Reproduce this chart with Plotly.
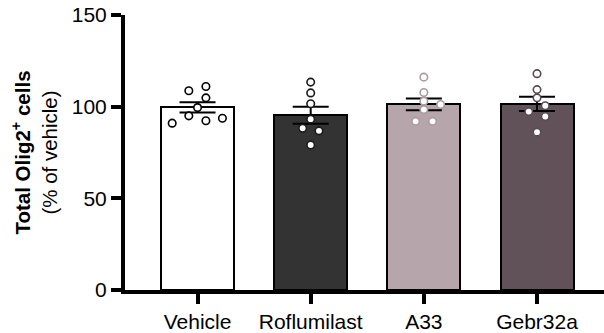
import plotly.graph_objects as go

# Groups and summary values (% of vehicle)
groups = ["Vehicle", "Roflumilast", "A33", "Gebr32a"]
means = [99.6, 95.3, 101.3, 101.5]
sems = [2.8, 4.6, 3.2, 3.9]

# Individual animals per group
vehicle_pts = [108.7, 111.0, 104.8, 99.5, 95.0, 92.3, 93.7, 91.0]
roflumilast_pts = [113.4, 107.5, 101.6, 93.2, 88.2, 86.8, 79.1]
a33_pts = [116.1, 107.7, 103.0, 101.2, 98.4, 92.0, 92.0]
gebr32a_pts = [118.0, 109.3, 104.8, 100.5, 97.3, 94.6, 86.1]

# Horizontal scatter offsets (category units) so overlapping dots stay visible
vehicle_dx = [-0.077, 0.074, 0.074, 0.0, -0.077, 0.074, 0.22, -0.224]
roflumilast_dx = [0.0, 0.0, 0.0, 0.0, -0.071, 0.073, 0.0]
a33_dx = [0.0, 0.0, 0.0, 0.148, 0.0, -0.073, 0.077]
gebr32a_dx = [0.0, 0.0, 0.0, 0.073, -0.073, 0.073, 0.0]

bar_fill = ["#ffffff", "#333333", "#b6a6ab", "#615259"]
dot_edge = ["#000000", "#1a1a1a", "#ab9aa0", "#5a4b52"]

FONT = "Liberation Sans, Arial, sans-serif"

fig = go.Figure()
fig.add_trace(go.Bar(
    x=list(range(len(groups))),
    y=means,
    width=0.645,
    marker=dict(color=bar_fill, line=dict(color="#000000", width=2)),
    error_y=dict(type="data", array=sems, visible=True,
                 color="#000000", thickness=2, width=18),
    showlegend=False,
))

all_pts = [vehicle_pts, roflumilast_pts, a33_pts, gebr32a_pts]
all_dx = [vehicle_dx, roflumilast_dx, a33_dx, gebr32a_dx]
for i, (pts, dx) in enumerate(zip(all_pts, all_dx)):
    fig.add_trace(go.Scatter(
        x=[i + d for d in dx],
        y=pts,
        mode="markers",
        marker=dict(symbol="circle", size=7.5, color="#ffffff",
                    line=dict(color=dot_edge[i], width=1.6)),
        showlegend=False,
        cliponaxis=False,
    ))

fig.update_layout(
    width=604, height=333,
    margin=dict(l=125, r=0, t=15, b=38),
    plot_bgcolor="#ffffff", paper_bgcolor="#ffffff",
    font=dict(family=FONT, size=21, color="#000000"),
    bargap=0,
)
fig.update_xaxes(
    range=[-0.641, 3.592],
    tickvals=list(range(len(groups))), ticktext=groups,
    showline=True, linecolor="#000000", linewidth=4,
    ticks="outside", ticklen=10, tickwidth=4, tickcolor="#000000",
    showgrid=False, zeroline=False,
    tickfont=dict(family=FONT, size=21),
)
fig.update_yaxes(
    range=[0, 150], tickvals=[0, 50, 100, 150],
    showline=True, linecolor="#000000", linewidth=4,
    ticks="outside", ticklen=10, tickwidth=4, tickcolor="#000000",
    showgrid=False, zeroline=False,
    tickfont=dict(family=FONT, size=21),
    title=dict(text="<b>Total Olig2<sup>+</sup> cells</b><br>(% of vehicle)",
               font=dict(family=FONT, size=20.5), standoff=10),
)

fig.write_html("out.html")
